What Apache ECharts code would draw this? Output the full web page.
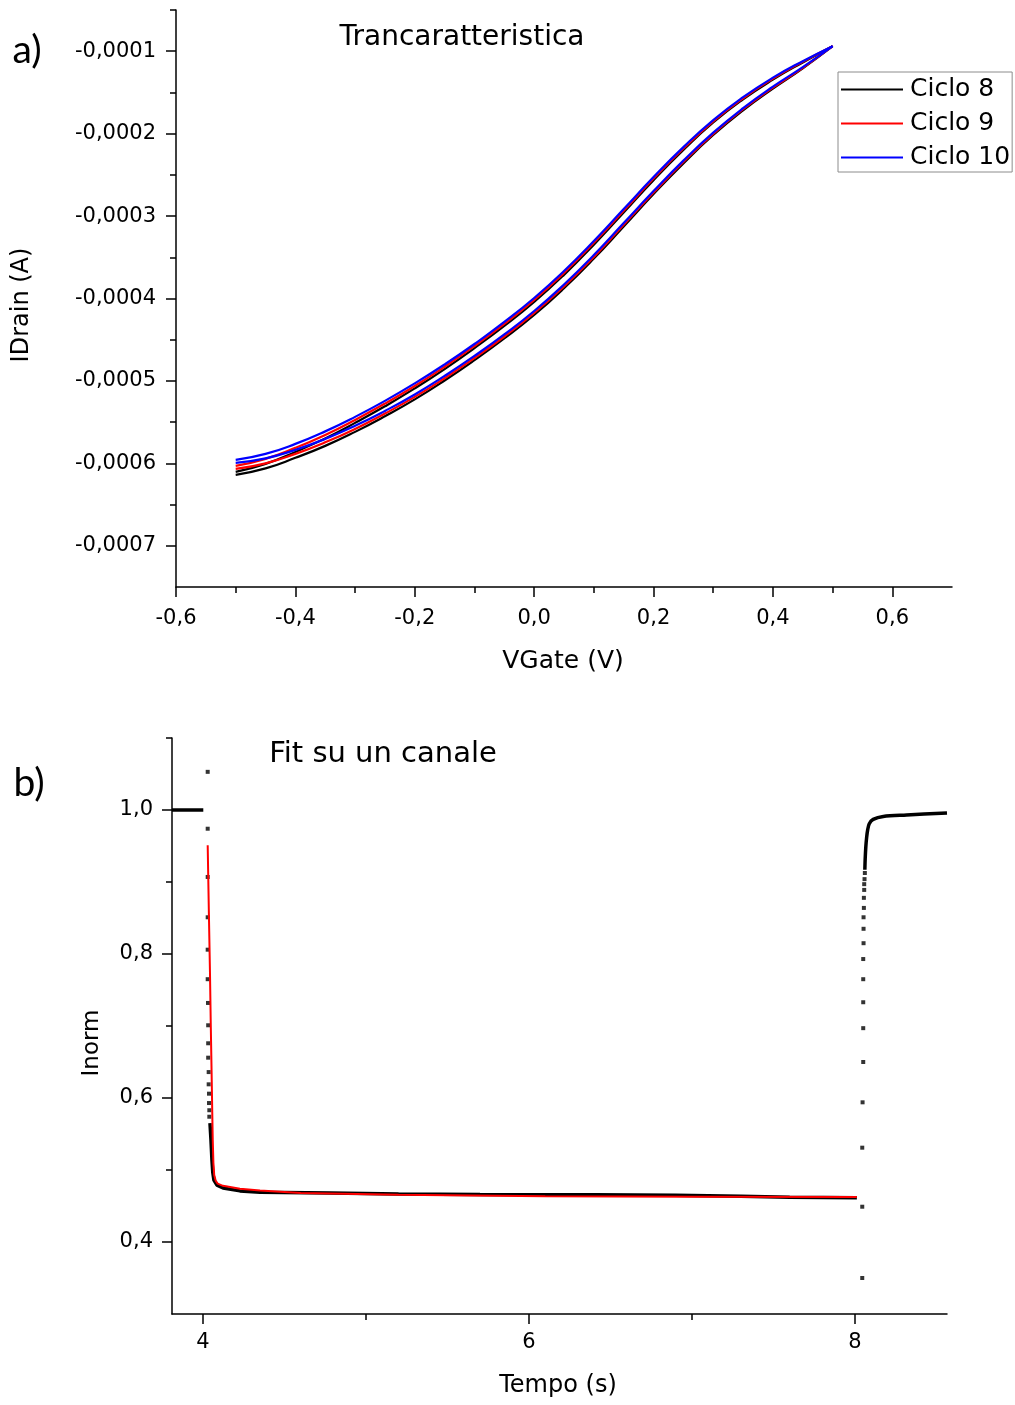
<!DOCTYPE html>
<html>
<head>
<meta charset="utf-8">
<title>Trancaratteristica / Fit su un canale</title>
<script src="https://cdn.jsdelivr.net/npm/echarts@6/dist/echarts.min.js"></script>
<style>
  html, body { margin: 0; padding: 0; background: #ffffff; }
  #chart { width: 1015px; height: 1405px; }
</style>
</head>
<body>
<div id="chart"></div>
<script>
// ---- Panel a): transfer characteristic, IDrain vs VGate (currents in µA) ----
const gateVoltage = [-0.5, -0.45, -0.4, -0.35, -0.3, -0.25, -0.2, -0.15, -0.1, -0.05,
  0, 0.05, 0.1, 0.15, 0.2, 0.25, 0.3, 0.35, 0.4, 0.45, 0.5];

const cycle8Upper = [-610.3, -600.6, -586.1, -569.7, -550.9, -530.8, -509.1, -485.6, -460.2, -433.3,
  -404.2, -371.3, -334.7, -295.6, -256.4, -219.8, -186.5, -158.4, -134.5, -113.6, -93.9];
const cycle8Lower = [-613.9, -606.1, -593.3, -578.8, -561.8, -542.9, -522.4, -499.5, -474.8, -448.5,
  -420.0, -387.6, -351.6, -312.6, -273.3, -236.1, -201.7, -171.8, -145.5, -120.8, -93.9];
const cycle9Upper = [-603.0, -594.5, -581.2, -565.5, -547.3, -527.5, -506.1, -482.8, -457.7, -430.9,
  -401.8, -369.0, -332.5, -293.6, -254.5, -218.1, -185.1, -157.1, -133.3, -112.8, -93.9];
const cycle9Lower = [-606.7, -600.0, -588.5, -574.5, -558.2, -539.6, -519.4, -496.7, -472.2, -446.1,
  -417.6, -385.3, -349.5, -310.5, -271.5, -234.4, -200.2, -170.4, -144.2, -120.1, -93.9];
const cycle10Upper = [-595.8, -588.5, -576.4, -561.2, -543.6, -524.2, -503.0, -480.0, -455.2, -428.5,
  -399.4, -366.7, -330.3, -291.5, -252.7, -216.4, -183.6, -155.8, -132.1, -112.1, -93.9];
const cycle10Lower = [-599.4, -593.9, -583.6, -570.3, -554.5, -536.4, -516.4, -493.9, -469.7, -443.6,
  -415.2, -383.0, -347.3, -308.5, -269.7, -232.7, -198.8, -169.1, -143.0, -119.4, -93.9];

const gateTicks = [-0.6, -0.4, -0.2, 0, 0.2, 0.4, 0.6];
const gateMinorTicks = [-0.5, -0.3, -0.1, 0.1, 0.3, 0.5];
const drainTicks = [-0.0007, -0.0006, -0.0005, -0.0004, -0.0003, -0.0002, -0.0001];
const drainMinorTicks = [-0.00065, -0.00055, -0.00045, -0.00035, -0.00025, -0.00015, -0.00005];

// ---- Panel b): single-channel normalised current vs time, with exponential fit ----
const baselineTrace = [[3.81, 1.0], [4.002, 1.0]];
const dropDots = [[4.029, 1.053], [4.029, 0.974], [4.029, 0.907], [4.029, 0.851], [4.029, 0.806],
  [4.029, 0.765], [4.031, 0.732], [4.032, 0.701], [4.032, 0.676], [4.032, 0.656], [4.035, 0.636],
  [4.035, 0.619], [4.037, 0.606], [4.037, 0.593], [4.039, 0.583], [4.039, 0.574]];
const decayTrace = [[4.043, 0.565], [4.049, 0.542], [4.055, 0.514], [4.060, 0.497], [4.067, 0.486],
  [4.086, 0.479], [4.123, 0.475], [4.227, 0.471], [4.35, 0.469], [4.78, 0.468], [5.2, 0.4665],
  [5.7, 0.466], [6.4, 0.4655], [6.9, 0.465], [7.3, 0.4635], [7.6, 0.462], [8.012, 0.4615]];
const riseDots = [[8.045, 0.350], [8.045, 0.449], [8.045, 0.531], [8.047, 0.594], [8.051, 0.650],
  [8.051, 0.697], [8.051, 0.733], [8.051, 0.765], [8.051, 0.793], [8.053, 0.815], [8.053, 0.835],
  [8.053, 0.851], [8.055, 0.864], [8.055, 0.878], [8.057, 0.889], [8.057, 0.897], [8.059, 0.904],
  [8.061, 0.9125]];
const riseTrace = [[8.061, 0.917], [8.063, 0.932], [8.067, 0.949], [8.072, 0.962], [8.078, 0.972],
  [8.088, 0.981], [8.112, 0.987], [8.174, 0.991], [8.317, 0.993], [8.565, 0.996]];
const fitCurve = [[4.029, 0.951], [4.036, 0.86], [4.043, 0.774], [4.048, 0.70], [4.053, 0.635],
  [4.057, 0.58], [4.060, 0.542], [4.064, 0.51], [4.069, 0.493], [4.078, 0.485], [4.09, 0.481],
  [4.123, 0.478], [4.227, 0.474], [4.35, 0.4715], [4.6, 0.468], [5.2, 0.4655], [6.1, 0.4635],
  [7.0, 0.463], [8.012, 0.4625]];

const timeTicks = [4, 6, 8];
const timeMinorTicks = [5, 7];
const normTicks = [0.4, 0.6, 0.8, 1.0];
const normMinorTicks = [0.5, 0.7, 0.9, 1.1];

// ---- helpers ----
const FONT = 'DejaVu Sans';
const toPairs = (xs, ys) => xs.map((x, i) => [x, ys[i] * 1e-6]);
const comma = (digits) => (v) => Number(v).toFixed(digits).replace('.', ',');

function majorAxis(gridIndex, min, max, ticks, digits, labelSize, margin, extra) {
  return Object.assign({
    type: 'value', gridIndex, min, max,
    axisLine: { show: true, onZero: false, lineStyle: { color: '#000', width: 1.5 } },
    axisTick: { show: true, inside: false, length: 10, customValues: ticks,
      lineStyle: { color: '#000', width: 1.5 } },
    axisLabel: { show: true, customValues: ticks, formatter: comma(digits), margin,
      color: '#000', fontFamily: FONT, fontSize: labelSize },
    splitLine: { show: false }
  }, extra || {});
}
function minorAxis(gridIndex, min, max, ticks, extra) {
  return Object.assign({
    type: 'value', gridIndex, min, max, offset: 0,
    axisLine: { show: false, onZero: false },
    axisTick: { show: true, inside: false, length: 6, customValues: ticks,
      lineStyle: { color: '#000', width: 1.5 } },
    axisLabel: { show: false },
    splitLine: { show: false }
  }, extra || {});
}

function loopSeries(name, color, upper, lower) {
  const base = {
    name, type: 'line', xAxisIndex: 0, yAxisIndex: 0, showSymbol: false, symbol: 'none',
    smooth: 0.5, lineStyle: { color, width: 2.2 }, itemStyle: { color }, animation: false
  };
  return [
    Object.assign({}, base, { data: toPairs(gateVoltage, lower) }),
    Object.assign({}, base, { data: toPairs(gateVoltage, upper) })
  ];
}

function text(str, x, y, size, family, rotate) {
  return {
    type: 'text', x, y, rotation: rotate ? Math.PI / 2 : 0, silent: true,
    style: { text: str, fill: '#000', fontSize: size, fontFamily: family,
      align: 'center', verticalAlign: 'middle' }
  };
}

const chart = echarts.init(document.getElementById('chart'), null, { renderer: 'canvas' });

chart.setOption({
  backgroundColor: '#ffffff',
  animation: false,
  grid: [
    { left: 176, top: 10, width: 776, height: 577 },
    { left: 172, top: 738, width: 775, height: 576 }
  ],
  xAxis: [
    majorAxis(0, -0.6, 0.7, gateTicks, 1, 21, 21, { position: 'bottom' }),
    minorAxis(0, -0.6, 0.7, gateMinorTicks, { position: 'bottom' }),
    majorAxis(1, 3.81, 8.565, timeTicks, 0, 21, 18, { position: 'bottom' }),
    minorAxis(1, 3.81, 8.565, timeMinorTicks, { position: 'bottom' })
  ],
  yAxis: [
    majorAxis(0, -0.00075, -0.00005, drainTicks, 4, 21, 20, { position: 'left' }),
    minorAxis(0, -0.00075, -0.00005, drainMinorTicks, { position: 'left' }),
    majorAxis(1, 0.3, 1.1, normTicks, 1, 21, 19, { position: 'left' }),
    minorAxis(1, 0.3, 1.1, normMinorTicks, { position: 'left' })
  ],
  legend: {
    data: ['Ciclo 8', 'Ciclo 9', 'Ciclo 10'],
    orient: 'vertical', left: 838, top: 72,
    icon: 'rect', itemWidth: 62, itemHeight: 2, itemGap: 9,
    padding: [5, 2, 2, 3],
    borderColor: '#8c8c8c', borderWidth: 1, backgroundColor: '#ffffff',
    textStyle: { color: '#000', fontFamily: FONT, fontSize: 25, lineHeight: 24, padding: [0, 0, 0, 2] },
    selectedMode: false
  },
  graphic: [
    text('a)', 27, 50, 39, 'Lato'),
    text('b)', 29, 783, 39, 'Lato'),
    text('Trancaratteristica', 462, 38, 28, FONT),
    text('Fit su un canale', 383, 754, 29, FONT),
    text('VGate (V)', 563, 661, 25, FONT),
    text('IDrain (A)', 22, 305, 24, FONT, true),
    text('Tempo (s)', 558, 1386, 24, FONT),
    text('Inorm', 92, 1043, 23, FONT, true)
  ],
  series: [
    ...loopSeries('Ciclo 8', '#000000', cycle8Upper, cycle8Lower),
    ...loopSeries('Ciclo 9', '#ff0000', cycle9Upper, cycle9Lower),
    ...loopSeries('Ciclo 10', '#0000ff', cycle10Upper, cycle10Lower),
    { type: 'line', xAxisIndex: 2, yAxisIndex: 2, data: baselineTrace, showSymbol: false, symbol: 'none',
      lineStyle: { color: '#000', width: 3.5 } },
    { type: 'line', xAxisIndex: 2, yAxisIndex: 2, data: decayTrace, showSymbol: false, symbol: 'none',
      lineStyle: { color: '#000', width: 3.5 } },
    { type: 'line', xAxisIndex: 2, yAxisIndex: 2, data: riseTrace, showSymbol: false, symbol: 'none',
      smooth: 0.3, lineStyle: { color: '#000', width: 3.5 } },
    { type: 'scatter', xAxisIndex: 2, yAxisIndex: 2, data: dropDots.concat(riseDots),
      symbol: 'rect', symbolSize: 4, itemStyle: { color: '#000' } },
    { type: 'line', xAxisIndex: 2, yAxisIndex: 2, data: fitCurve, showSymbol: false, symbol: 'none',
      lineStyle: { color: '#ff0000', width: 2 } }
  ]
});
</script>
</body>
</html>
